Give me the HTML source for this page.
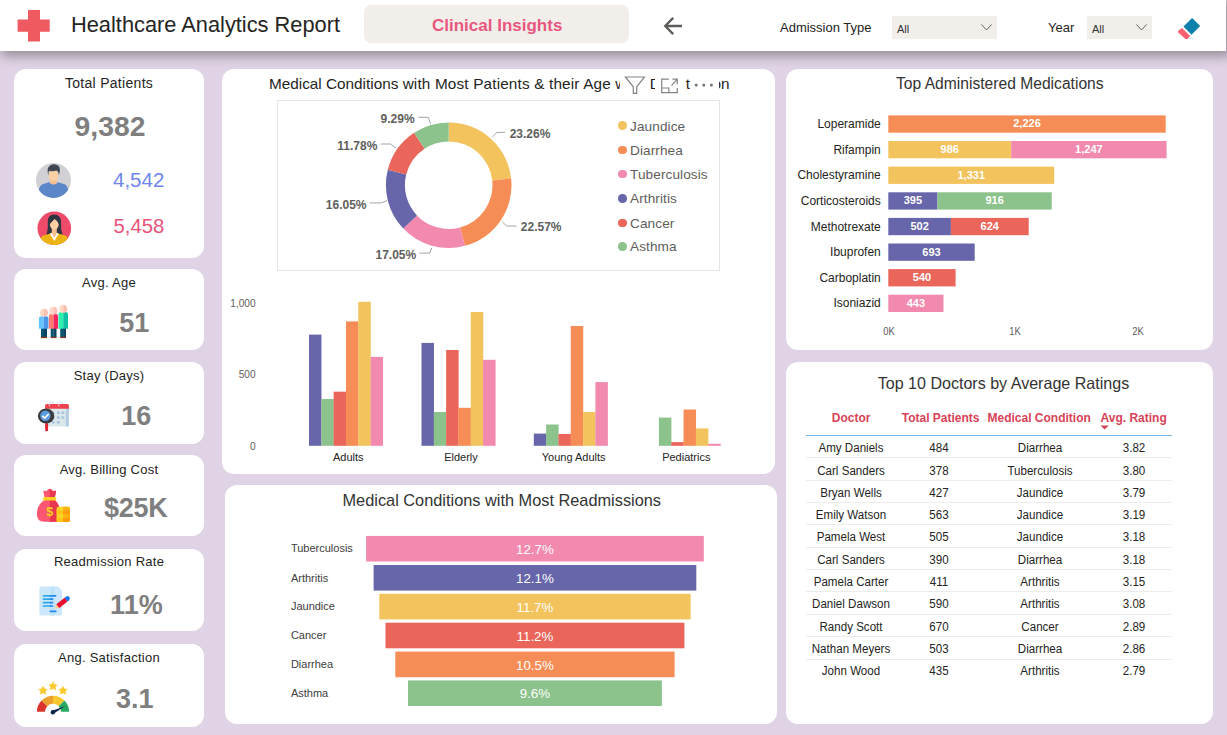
<!DOCTYPE html>
<html>
<head>
<meta charset="utf-8">
<title>Healthcare Analytics Report</title>
<style>
*{box-sizing:border-box;margin:0;padding:0}
html,body{width:1227px;height:735px;overflow:hidden}
body{background:#E0D3E5;font-family:"Liberation Sans",sans-serif;color:#252423;position:relative}
.abs{position:absolute}
.card{position:absolute;background:#fff;border-radius:12px}
.t{position:absolute;white-space:nowrap;line-height:1;transform-origin:0 0}
.tc{position:absolute;white-space:nowrap;line-height:1;text-align:center}
#hdr{position:absolute;left:0;top:0;width:1226px;height:51px;background:#fff;box-shadow:3px 3px 11px 2px rgba(0,0,0,.34)}
.kt{position:absolute;left:0;width:100%;text-align:center;font-size:13px;letter-spacing:.25px;color:#252423;line-height:1;white-space:nowrap}
.kv{position:absolute;width:80px;font-weight:bold;color:#7F7F7F;line-height:1;white-space:nowrap;text-align:center}
.dd{position:absolute;background:#F2EFEB;top:16px;height:23px}
.dl{font-size:12px;font-weight:bold;color:#605E5C;margin-top:1px}
.lg{font-size:13.600px;color:#605E5C;letter-spacing:.1px;margin-top:1.300px}
.ya{font-size:11px;color:#605E5C;text-align:right;transform:scaleX(.92);transform-origin:100% 50%}
.xa{font-size:11px;color:#252423;width:100px}
.ct{font-size:16.500px;color:#333}
.fl{font-size:11px;color:#404040}
.fv{font-size:13.300px;color:#fff;width:80px}
.ml{font-size:12px;color:#252423;text-align:right}
.mb{height:17.300px;color:#fff;font-weight:bold;font-size:11px;line-height:17.300px;text-align:center;white-space:nowrap}
.ax{font-size:10.200px;color:#605E5C;width:40px;margin-top:.5px;transform:scaleX(.93);transform-origin:50% 50%}
.td{font-size:12px;color:#252423;width:120px;margin-top:.5px;transform:scaleX(.965);transform-origin:50% 50%}
.th{font-size:12px;font-weight:bold;color:#D94257}
</style>
</head>
<body>
<!-- HEADER -->
<div id="hdr">
  <svg class="abs" style="left:17px;top:10px" width="34" height="32" viewBox="0 0 34 32"><path d="M11 0h12v9.6h9.7v12.2H23V31.6H11V21.8H.6V9.6H11z" fill="#EE5A5F"/></svg>
  <div class="t" id="title" style="left:71px;top:14px;font-size:21.8px;color:#252423">Healthcare Analytics Report</div>
  <div class="abs" style="left:364px;top:5px;width:265px;height:38px;background:#F2EFEB;border-radius:7px"></div>
  <div class="t" id="btn" style="left:432px;top:17px;font-size:17px;font-weight:bold;color:#E9577F">Clinical Insights</div>
  <svg class="abs" style="left:662px;top:14.500px" width="22" height="22" viewBox="0 0 22 22"><path d="M20 11H3.800M11.200 2.900L3.200 11L11.200 19.100" fill="none" stroke="#5E5C5A" stroke-width="2.300"/></svg>
  <div class="t" id="adm" style="left:780px;top:21px;font-size:13px;color:#252423">Admission Type</div>
  <div class="dd" style="left:892px;width:105px"></div>
  <div class="t" style="left:897px;top:23.500px;font-size:11px;color:#333">All</div>
  <svg class="abs" style="left:980px;top:23px" width="13" height="9" viewBox="0 0 13 9"><path d="M1.500 1.500l5 5.500 5-5.500" fill="none" stroke="#666" stroke-width="1"/></svg>
  <div class="t" id="yr" style="left:1048px;top:21px;font-size:13px;color:#252423">Year</div>
  <div class="dd" style="left:1087px;width:65px"></div>
  <div class="t" style="left:1092px;top:23.500px;font-size:11px;color:#333">All</div>
  <svg class="abs" style="left:1135px;top:23px" width="13" height="9" viewBox="0 0 13 9"><path d="M1.500 1.500l5 5.500 5-5.500" fill="none" stroke="#666" stroke-width="1"/></svg>
  <svg class="abs" style="left:1176px;top:15px" width="28" height="26" viewBox="1176 15 28 26">
    <path d="M1192.100 17.900L1200.200 25.900L1191.500 34.800L1183.500 26.500z" fill="#0F7FAB"/>
    <path d="M1182 28L1190.200 36L1188 38.500Q1186.200 39.700 1184.800 38.600L1178.300 32.400Q1177.600 31.600 1178.400 30.800z" fill="#FB6170"/>
    <path d="M1188 38.500h6" stroke="#CDEFFA" stroke-width="1"/>
  </svg>
</div>


<!-- LEFT KPI CARDS -->
<div class="card" id="k1" style="left:14px;top:69px;width:190px;height:189px">
  <div class="kt" style="top:7px;font-size:14px;letter-spacing:.3px">Total Patients</div>
  <div class="kv" id="v1" style="left:1px;width:190px;top:43.2px;font-size:28.300px">9,382</div>
  <svg class="abs" style="left:22px;top:94px" width="36" height="36" viewBox="0 0 36 36">
    <defs><clipPath id="c1"><circle cx="17.500" cy="17.400" r="17.500"/></clipPath></defs>
    <circle cx="17.500" cy="17.400" r="17.500" fill="#D1D1D5"/>
    <g clip-path="url(#c1)">
      <path d="M2.800 36V27.500Q3.200 22 8 20.800L13.500 19h8L27 20.800Q31.800 22 32.200 27.500V36z" fill="#5B86C8"/>
      <path d="M13.300 19.200Q17.500 23.500 21.700 19.200L20.500 18.500h-6z" fill="#fff"/>
      <path d="M14.200 14h6.600v6.200Q17.500 23 14.200 20.200z" fill="#F2BE8E"/>
      <ellipse cx="17.500" cy="12.300" rx="4.900" ry="6.100" fill="#F8D0A4"/>
      <path d="M12.300 12.500Q10.300 5 14 2.600Q18.500 -.2 22.500 2.800Q25.200 5.500 22.800 12.500Q22.800 8.500 20.500 7.600Q16 9 13 7.800Q12.400 9.500 12.300 12.500z" fill="#3F4753"/>
    </g>
  </svg>
  <svg class="abs" style="left:23px;top:142px" width="35" height="35" viewBox="0 0 35 35">
    <defs><clipPath id="c2"><circle cx="17.300" cy="17.300" r="16.800"/></clipPath></defs>
    <circle cx="17.300" cy="17.300" r="16.800" fill="#EE4B6B"/>
    <g clip-path="url(#c2)">
      <path d="M9.500 24Q11.500 17 10.800 11Q10.500 3.500 17 3.500Q24 3.500 24 11Q23.300 17 25.500 24z" fill="#2F3541"/>
      <path d="M3.500 35V28.500Q4 24.800 8 24L14.500 22.300h5.600L26.500 24Q30.500 24.800 31 28.500V35z" fill="#EBB313"/>
      <path d="M12.800 22.800L17.300 30L21.800 22.800L20 21.800h-5.400z" fill="#fff"/>
      <path d="M14.800 17h5v5.200L17.300 27L14.800 22.200z" fill="#F2BE8E"/>
      <ellipse cx="17.300" cy="13" rx="4.500" ry="5.600" fill="#F8D0A4"/>
      <path d="M12.500 13.500Q11.500 5.500 17 5Q23 5.200 22.200 13.500Q21 10 17.500 8Q15 10.800 12.500 13.500z" fill="#2F3541"/>
    </g>
  </svg>
  <div class="t" id="v1a" style="left:99px;top:100.700px;font-size:20.500px;color:#6F87EE">4,542</div>
  <div class="t" id="v1b" style="left:99.500px;top:147px;font-size:20.300px;color:#E8537B">5,458</div>
</div>

<div class="card" id="k2" style="left:14px;top:269px;width:190px;height:81px">
  <div class="kt" style="top:7px">Avg. Age</div>
  <div class="kv" id="v2" style="left:80.200px;top:41.300px;font-size:27px">51</div>
  <svg class="abs" style="left:22px;top:36px" width="36" height="36" viewBox="36 305 36 36">
    <g>
      <rect x="41" y="328" width="3" height="9" fill="#0B5574"/><rect x="44" y="328" width="3" height="9" fill="#074560"/><rect x="41" y="336.800" width="6" height="1.300" fill="#8A3B20"/>
      <path d="M38.900 318.500Q38.900 316.200 41.500 316.200H43.700V328.700H38.900z" fill="#66C5FC"/><path d="M43.700 316.200H46Q48.500 316.200 48.500 318.500V328.700H43.700z" fill="#4A98EC"/>
      <path d="M43.900 308.800A4 4 0 0 0 43.900 316.800z" fill="#FFD8C8"/><path d="M43.900 308.800A4 4 0 0 1 43.900 316.800z" fill="#FFBFB2"/>
    </g>
    <g>
      <rect x="50.700" y="328" width="3" height="9" fill="#0B5574"/><rect x="53.600" y="328" width="2.900" height="9" fill="#074560"/><rect x="50.700" y="336.800" width="5.800" height="1.300" fill="#8A3B20"/>
      <path d="M48.900 316.300Q48.900 314 51.500 314H53.500V328.700H48.900z" fill="#FF7B6F"/><path d="M53.500 314H55.600Q58.100 314 58.100 316.300V328.700H53.500z" fill="#F5255F"/>
      <path d="M53.400 306.800A4 4 0 0 0 53.400 314.800z" fill="#FFD8C8"/><path d="M53.400 306.800A4 4 0 0 1 53.400 314.800z" fill="#FFBFB2"/>
    </g>
    <g>
      <rect x="60.200" y="328" width="3" height="9" fill="#0B5574"/><rect x="63.100" y="328" width="2.900" height="9" fill="#074560"/><rect x="60.200" y="336.800" width="5.800" height="1.300" fill="#8A3B20"/>
      <path d="M58.500 314.300Q58.500 312 61 312H63.200V328.700H58.500z" fill="#2EF0AE"/><path d="M63.200 312H65.500Q68 312 68 314.300V328.700H63.200z" fill="#10C2A4"/>
      <path d="M63.200 304.900A4 4 0 0 0 63.200 312.900z" fill="#FFD8C8"/><path d="M63.200 304.900A4 4 0 0 1 63.200 312.900z" fill="#FFBFB2"/>
    </g>
  </svg>
</div>

<div class="card" id="k3" style="left:14px;top:362px;width:190px;height:82px">
  <div class="kt" style="top:7px">Stay (Days)</div>
  <div class="kv" id="v3" style="left:82.200px;top:41.300px;font-size:27px">16</div>
  <svg class="abs" style="left:22px;top:36px" width="36" height="36" viewBox="36 398 36 36">
    <rect x="45.100" y="404" width="23.800" height="22.400" rx="1.500" fill="#DCE9EC"/>
    <path d="M65.800 408h3.100v16.900Q68.900 426.400 67.400 426.400H65.800z" fill="#B6CEE4"/>
    <path d="M45.100 408.800V405.500Q45.100 404 46.600 404H67.400Q68.900 404 68.900 405.500V408.800z" fill="#F0434D"/>
    <g fill="#A9C3E1"><circle cx="53.200" cy="412.800" r="1.500"/><circle cx="58.300" cy="412.800" r="1.500"/><circle cx="62.800" cy="412.800" r="1.500"/><circle cx="53.200" cy="417.600" r="1.500"/><circle cx="58.300" cy="417.600" r="1.500"/><circle cx="62.800" cy="417.600" r="1.500"/><circle cx="53.200" cy="422.300" r="1.500"/><circle cx="58.300" cy="422.300" r="1.500"/></g>
    <path d="M49.500 406.500Q48 402 51.300 402Q53 402.200 53.300 404" fill="none" stroke="#C9DCEF" stroke-width="1"/>
    <path d="M59 406.500Q57.500 402 60.800 402Q62.500 402.200 62.800 404" fill="none" stroke="#C9DCEF" stroke-width="1"/>
    <rect x="45.100" y="423" width="3" height="8.300" rx="1.200" fill="#E0252F"/>
    <ellipse cx="46.100" cy="416" rx="8.200" ry="7.400" fill="#3A3A3C"/>
    <circle cx="45.400" cy="415.700" r="5.200" fill="#5B9BE0"/>
    <path d="M42.400 415.800l2.300 2.300l4-4.100" fill="none" stroke="#fff" stroke-width="1.700"/>
  </svg>
</div>

<div class="card" id="k4" style="left:14px;top:455px;width:190px;height:81px">
  <div class="kt" style="top:7.800px">Avg. Billing Cost</div>
  <div class="kv" id="v4" style="left:81.800px;top:39.700px;font-size:27px;letter-spacing:-.2px">$25K</div>
  <svg class="abs" style="left:22px;top:30px" width="36" height="38" viewBox="36 485 36 38">
    <path d="M43.200 491Q45 490.500 46.300 491.300Q48 488.600 49.600 488.700Q51.300 488.600 53 491.300Q54.500 490.500 56.200 491L54.800 497.300H44.500z" fill="#FB5672"/>
    <path d="M49.700 488.700Q51.300 488.600 53 491.300Q54.500 490.500 56.200 491L54.800 497.300H49.700z" fill="#E8374F"/>
    <path d="M44.500 500Q37 504.500 36.900 514Q36.900 521.800 44 521.800H57Q60.600 521.800 60.400 514Q60 504.500 54.800 500z" fill="#FB5672"/>
    <path d="M49.800 500H54.800Q60 504.500 60.400 514Q60.600 521.800 57 521.800H49.800z" fill="#E8374F"/>
    <rect x="43" y="497" width="13.300" height="3.600" rx="1.500" fill="#FFCF21"/>
    <text x="49.800" y="516.300" font-family="Liberation Sans, sans-serif" font-weight="bold" font-size="12.500" fill="#FFCF21" text-anchor="middle">$</text>
    <g>
      <rect x="56.600" y="506.800" width="13.400" height="15" rx="1.700" fill="#FFD529"/>
      <rect x="63" y="506.800" width="7" height="15" rx="1.700" fill="#FFB311"/>
      <rect x="63" y="506.800" width="3" height="15" fill="#FFB311"/>
      <rect x="56.600" y="510.500" width="6.400" height="3.700" fill="#FFC414"/><rect x="63" y="510.500" width="7" height="3.700" rx="1.500" fill="#FF9A0B"/>
      <rect x="56.600" y="518" width="6.400" height="3.800" fill="#FFC414"/><rect x="63" y="518" width="7" height="3.800" rx="1.500" fill="#FF9A0B"/>
    </g>
  </svg>
</div>

<div class="card" id="k5" style="left:14px;top:549px;width:190px;height:82px">
  <div class="kt" style="top:6px">Readmission Rate</div>
  <div class="kv" id="v5" style="left:82.400px;top:43.200px;font-size:27px">11%</div>
  <svg class="abs" style="left:22px;top:34px" width="36" height="36" viewBox="36 583 36 36">
    <path d="M41.300 586.500H58L62.100 590.500V613.400Q62.100 615.400 60.100 615.400H41.300Q39.300 615.400 39.300 613.400V588.500Q39.300 586.500 41.300 586.500z" fill="#CBE7F9"/>
    <path d="M50.500 586.500H55V615.400H50.500z" fill="#BEE2F6"/>
    <g stroke-width="1.700" stroke-linecap="round">
      <path d="M43.500 595.800H50.500M43.500 599.200H50.500M43.500 602.600H50.500M43.500 606H50.500" stroke="#2BA9E9"/>
      <path d="M50.500 595.800H55.600M50.500 599.200H52.400M50.500 602.600H52.400M50.500 606H52.400M50.300 611.300H55.900" stroke="#2388F1"/>
    </g>
    <g transform="translate(54.900 608.600) rotate(-38.700)">
      <path d="M0 0L3.800 -2.400V2.400z" fill="#FFCA8B"/>
      <rect x="3.800" y="-2.400" width="10.500" height="4.800" fill="#E90A2F"/>
      <path d="M14.300 -2.400H16Q18.400 -2.400 18.400 0Q18.400 2.400 16 2.400H14.300z" fill="#1371E9"/>
    </g>
  </svg>
</div>

<div class="card" id="k6" style="left:14px;top:644px;width:190px;height:83px">
  <div class="kt" style="top:7px">Ang. Satisfaction</div>
  <div class="kv" id="v6" style="left:80.700px;top:42.400px;font-size:27px">3.1</div>
  <svg class="abs" style="left:22px;top:36px" width="36" height="36" viewBox="36 680 36 36">
    <g id="gauge">
      <path d="M36.900 711.800A16.100 16.100 0 0 1 41.620 700.420L47.340 706.140A8 8 0 0 0 45 711.800z" fill="#D9342D"/>
      <path d="M41.620 700.420A16.100 16.100 0 0 1 53 695.700V703.800A8 8 0 0 0 47.340 706.140z" fill="#EDA12D"/>
      <path d="M53 695.700A16.100 16.100 0 0 1 64.380 700.420L58.660 706.140A8 8 0 0 0 53 703.800z" fill="#F9C830"/>
      <path d="M64.380 700.420A16.100 16.100 0 0 1 69.100 711.800H61A8 8 0 0 0 58.660 706.140z" fill="#28A963"/>
      <path d="M51 711.200L65.200 706L53.800 713.600z" fill="#0B2548"/><circle cx="52.900" cy="712.200" r="2.200" fill="#0B2548"/>
    </g>
    <g fill="#FACB2F" stroke="#FACB2F" stroke-width=".6" stroke-linejoin="round">
      <path id="st" d="M0 -4.300L1.500 -1.600L4.200 -1.300L2.200 0.800L2.700 3.600L0 2.300L-2.700 3.600L-2.200 0.800L-4.200 -1.300L-1.500 -1.600z" transform="translate(43 690.600)"/>
      <path d="M0 -4.300L1.500 -1.600L4.200 -1.300L2.200 0.800L2.700 3.600L0 2.300L-2.700 3.600L-2.200 0.800L-4.200 -1.300L-1.500 -1.600z" transform="translate(53 686.200)"/>
      <path d="M0 -4.300L1.500 -1.600L4.200 -1.300L2.200 0.800L2.700 3.600L0 2.300L-2.700 3.600L-2.200 0.800L-4.200 -1.300L-1.500 -1.600z" transform="translate(63 690.600)"/>
    </g>
  </svg>
</div>


<!-- MIDDLE -->
<div class="card" id="m1" style="left:222px;top:69px;width:553px;height:405px"></div>
<div id="m1c">
  <div class="t" id="m1t" style="left:269px;top:76px;font-size:15.320px;color:#252423">Medical Conditions <span style="letter-spacing:.16px">with Most Patients &amp; their Age wise Distribution</span></div>
  <div class="abs" style="left:620.300px;top:72px;width:112px;height:24px;background:#fff"></div>
  <div class="abs" style="left:649.500px;top:72px;width:5.500px;height:24px;overflow:hidden"><div class="t" style="left:.3px;top:4px;font-size:15.320px;color:#252423">D</div></div>
  <div class="abs" style="left:685.200px;top:72px;width:5px;height:24px;overflow:hidden"><div class="t" style="left:.5px;top:4px;font-size:15.320px;color:#252423">t</div></div>
  <div class="abs" style="left:719.200px;top:72px;width:11px;height:24px;overflow:hidden"><div class="t" style="right:.6px;top:4px;font-size:15.320px;color:#252423">on</div></div>
  <svg class="abs" style="left:620px;top:72px" width="100" height="24" viewBox="620 72 100 24">
    <path d="M625.400 77H644.400L636.700 86.800V93.300H633.300V86.800z" fill="none" stroke="#858585" stroke-width="1.200" stroke-linejoin="miter"/>
    <path d="M668.900 79.100H661.700V92.600H677.300V87.900M661.700 88H668.900V92.600" fill="none" stroke="#858585" stroke-width="1.200"/>
    <path d="M672.400 79.100H677.300V84.300M677.300 79.100L671.500 85.700" fill="none" stroke="#858585" stroke-width="1.200"/>
    <circle cx="696.200" cy="85.100" r="1.550" fill="#7A7A7A"/><circle cx="703.800" cy="85.100" r="1.550" fill="#7A7A7A"/><circle cx="711.400" cy="85.100" r="1.550" fill="#7A7A7A"/>
  </svg>
  <div class="abs" style="left:277px;top:100px;width:443px;height:171px;border:1px solid #E6E6E6"></div>
  <svg class="abs" style="left:222px;top:69px" width="553" height="405" viewBox="222 69 553 405">
    <path d="M448.70 122.40A62.8 62.8 0 0 1 511.13 178.35L492.24 180.42A43.8 43.8 0 0 0 448.70 141.40z" fill="#F3C35D"/>
    <path d="M511.13 178.35A62.8 62.8 0 0 1 464.97 245.86L460.05 227.51A43.8 43.8 0 0 0 492.24 180.42z" fill="#F78D56"/>
    <path d="M464.97 245.86A62.8 62.8 0 0 1 403.25 228.53L417.00 215.42A43.8 43.8 0 0 0 460.05 227.51z" fill="#F289AE"/>
    <path d="M403.25 228.53A62.8 62.8 0 0 1 387.80 169.85L406.23 174.49A43.8 43.8 0 0 0 417.00 215.42z" fill="#6766AA"/>
    <path d="M387.80 169.85A62.8 62.8 0 0 1 414.09 132.80L424.56 148.65A43.8 43.8 0 0 0 406.23 174.49z" fill="#EA655A"/>
    <path d="M414.09 132.80A62.8 62.8 0 0 1 448.70 122.40L448.70 141.40A43.8 43.8 0 0 0 424.56 148.65z" fill="#8CC28B"/>
    <path d="M492.3 137L497 132.4H505M502.3 221.9L506.9 226.1H516.6M431.7 248L429.9 253.1H419.5M387.1 200.6L381.3 202.9H369.7M395.9 148.1L390.6 144H380.6M430.6 123.8L428.3 117.3H418.3" fill="none" stroke="#A6A6A6" stroke-width="1"/>
    <rect x="309.00" y="334.6" width="12.47" height="111.20" fill="#6766AA"/>
    <rect x="321.32" y="399" width="12.47" height="46.80" fill="#8CC28B"/>
    <rect x="333.64" y="391.7" width="12.47" height="54.10" fill="#EA655A"/>
    <rect x="345.96" y="321.4" width="12.47" height="124.40" fill="#F78D56"/>
    <rect x="358.28" y="301.8" width="12.47" height="144.00" fill="#F3C35D"/>
    <rect x="370.60" y="356.9" width="12.47" height="88.90" fill="#F289AE"/>
    <rect x="421.50" y="342.9" width="12.47" height="102.90" fill="#6766AA"/>
    <rect x="433.82" y="412" width="12.47" height="33.80" fill="#8CC28B"/>
    <rect x="446.14" y="350" width="12.47" height="95.80" fill="#EA655A"/>
    <rect x="458.46" y="407.8" width="12.47" height="38.00" fill="#F78D56"/>
    <rect x="470.78" y="312" width="12.47" height="133.80" fill="#F3C35D"/>
    <rect x="483.10" y="359.8" width="12.47" height="86.00" fill="#F289AE"/>
    <rect x="533.80" y="433.6" width="12.47" height="12.20" fill="#6766AA"/>
    <rect x="546.12" y="424.5" width="12.47" height="21.30" fill="#8CC28B"/>
    <rect x="558.44" y="434" width="12.47" height="11.80" fill="#EA655A"/>
    <rect x="570.76" y="326" width="12.47" height="119.80" fill="#F78D56"/>
    <rect x="583.08" y="412" width="12.47" height="33.80" fill="#F3C35D"/>
    <rect x="595.40" y="382.1" width="12.47" height="63.70" fill="#F289AE"/>
    <rect x="658.92" y="417.6" width="12.47" height="28.20" fill="#8CC28B"/>
    <rect x="671.24" y="442.1" width="12.47" height="3.70" fill="#EA655A"/>
    <rect x="683.56" y="409.5" width="12.47" height="36.30" fill="#F78D56"/>
    <rect x="695.88" y="428.4" width="12.47" height="17.40" fill="#F3C35D"/>
    <rect x="708.20" y="443.8" width="12.47" height="2.00" fill="#F289AE"/>
  </svg>
  <div class="t dl" style="left:509.700px;top:126.800px">23.26%</div>
  <div class="t dl" style="left:520.800px;top:220px">22.57%</div>
  <div class="t dl" style="left:375.500px;top:248px">17.05%</div>
  <div class="t dl" style="left:325.800px;top:198px">16.05%</div>
  <div class="t dl" style="left:337.300px;top:139px">11.78%</div>
  <div class="t dl" style="left:380.600px;top:112px">9.29%</div>
  <div class="abs" style="left:618.3px;top:121.35px;width:8.7px;height:8.7px;border-radius:50%;background:#F3C35D"></div><div class="t lg" style="left:630px;top:118.4px">Jaundice</div>
  <div class="abs" style="left:618.3px;top:145.75px;width:8.7px;height:8.7px;border-radius:50%;background:#F78D56"></div><div class="t lg" style="left:630px;top:142.8px">Diarrhea</div>
  <div class="abs" style="left:618.3px;top:169.65px;width:8.7px;height:8.7px;border-radius:50%;background:#F289AE"></div><div class="t lg" style="left:630px;top:166.7px">Tuberculosis</div>
  <div class="abs" style="left:618.3px;top:193.85px;width:8.7px;height:8.7px;border-radius:50%;background:#6766AA"></div><div class="t lg" style="left:630px;top:190.9px">Arthritis</div>
  <div class="abs" style="left:618.3px;top:218.65px;width:8.7px;height:8.7px;border-radius:50%;background:#EA655A"></div><div class="t lg" style="left:630px;top:215.7px">Cancer</div>
  <div class="abs" style="left:618.3px;top:242.15px;width:8.7px;height:8.7px;border-radius:50%;background:#8CC28B"></div><div class="t lg" style="left:630px;top:239.2px">Asthma</div>
  
  <div class="t ya" style="left:200px;width:55.600px;top:298px">1,000</div>
  <div class="t ya" style="left:200px;width:55.600px;top:369.100px">500</div>
  <div class="t ya" style="left:200px;width:55.600px;top:440.600px">0</div>
  <div class="tc xa" style="left:298.300px;top:451.500px">Adults</div>
  <div class="tc xa" style="left:411px;top:451.500px">Elderly</div>
  <div class="tc xa" style="left:523.700px;top:451.500px">Young Adults</div>
  <div class="tc xa" style="left:636.300px;top:451.500px">Pediatrics</div>
</div>
<div class="card" id="m2" style="left:225px;top:485px;width:552px;height:239px"></div>
<div id="m2c">
  <svg class="abs" style="left:225px;top:485px" width="552" height="239" viewBox="225 485 552 239"><rect x="366.1" y="535.9" width="337.7" height="25.600" fill="#F289AE"/><rect x="373.6" y="565.0" width="322.7" height="25.600" fill="#6766AA"/><rect x="379.3" y="593.8" width="311.3" height="25.600" fill="#F3C35D"/><rect x="385.5" y="622.7" width="298.9" height="25.600" fill="#EA655A"/><rect x="395.3" y="651.6" width="279.3" height="25.600" fill="#F78D56"/><rect x="408.0" y="680.4" width="253.9" height="25.600" fill="#8CC28B"/></svg>
  <div class="t ct" id="m2t" style="left:342.500px;top:491.500px;font-size:16.330px">Medical Conditions with Most Readmissions</div>
  <div class="t fl" style="left:290.900px;top:543.4px">Tuberculosis</div><div class="tc fv" style="left:494.95000000000005px;top:542.9px">12.7%</div>
  <div class="t fl" style="left:290.900px;top:572.5px">Arthritis</div><div class="tc fv" style="left:494.95000000000005px;top:572.0px">12.1%</div>
  <div class="t fl" style="left:290.900px;top:601.3px">Jaundice</div><div class="tc fv" style="left:494.95000000000005px;top:600.8px">11.7%</div>
  <div class="t fl" style="left:290.900px;top:630.2px">Cancer</div><div class="tc fv" style="left:494.95000000000005px;top:629.7px">11.2%</div>
  <div class="t fl" style="left:290.900px;top:659.1px">Diarrhea</div><div class="tc fv" style="left:494.95000000000005px;top:658.6px">10.5%</div>
  <div class="t fl" style="left:290.900px;top:687.9px">Asthma</div><div class="tc fv" style="left:494.95000000000005px;top:687.4px">9.6%</div>
  
</div>

<!-- RIGHT -->
<div class="card" id="r1" style="left:786px;top:69px;width:427px;height:281px"></div>
<div id="r1c">
  <svg class="abs" style="left:786px;top:69px" width="427" height="281" viewBox="786 69 427 281"><rect x="888.3" y="115.4" width="277.4" height="17.300" fill="#F78D56"/><rect x="888.3" y="141.0" width="122.9" height="17.300" fill="#F3C35D"/><rect x="1011.2" y="141.0" width="155.4" height="17.300" fill="#F289AE"/><rect x="888.3" y="166.6" width="165.9" height="17.300" fill="#F3C35D"/><rect x="888.3" y="192.3" width="49.2" height="17.300" fill="#6766AA"/><rect x="937.5" y="192.3" width="114.2" height="17.300" fill="#8CC28B"/><rect x="888.3" y="217.9" width="62.6" height="17.300" fill="#6766AA"/><rect x="950.9" y="217.9" width="77.8" height="17.300" fill="#EA655A"/><rect x="888.3" y="243.5" width="86.4" height="17.300" fill="#6766AA"/><rect x="888.3" y="269.1" width="67.3" height="17.300" fill="#EA655A"/><rect x="888.3" y="294.7" width="55.2" height="17.300" fill="#F289AE"/></svg>
  <div class="t ct" id="r1t" style="left:896px;top:75.800px;font-size:15.640px">Top Administered Medications</div>
  <div class="t ml" style="left:780px;width:100.800px;top:118.0px">Loperamide</div><div class="abs mb" style="left:888.3px;top:115.4px;width:277.4px">2,226</div>
  <div class="t ml" style="left:780px;width:100.800px;top:143.6px">Rifampin</div><div class="abs mb" style="left:888.3px;top:141.0px;width:122.9px">986</div><div class="abs mb" style="left:1011.2px;top:141.0px;width:155.4px">1,247</div>
  <div class="t ml" style="left:780px;width:100.800px;top:169.2px">Cholestyramine</div><div class="abs mb" style="left:888.3px;top:166.6px;width:165.9px">1,331</div>
  <div class="t ml" style="left:780px;width:100.800px;top:194.9px">Corticosteroids</div><div class="abs mb" style="left:888.3px;top:192.3px;width:49.2px">395</div><div class="abs mb" style="left:937.5px;top:192.3px;width:114.2px">916</div>
  <div class="t ml" style="left:780px;width:100.800px;top:220.5px">Methotrexate</div><div class="abs mb" style="left:888.3px;top:217.9px;width:62.6px">502</div><div class="abs mb" style="left:950.9px;top:217.9px;width:77.8px">624</div>
  <div class="t ml" style="left:780px;width:100.800px;top:246.1px">Ibuprofen</div><div class="abs mb" style="left:888.3px;top:243.5px;width:86.4px">693</div>
  <div class="t ml" style="left:780px;width:100.800px;top:271.7px">Carboplatin</div><div class="abs mb" style="left:888.3px;top:269.1px;width:67.3px">540</div>
  <div class="t ml" style="left:780px;width:100.800px;top:297.3px">Isoniazid</div><div class="abs mb" style="left:888.3px;top:294.7px;width:55.2px">443</div>
  
  <div class="tc ax" style="left:869.300px;top:326.500px">0K</div>
  <div class="tc ax" style="left:994.600px;top:326.500px">1K</div>
  <div class="tc ax" style="left:1118px;top:326.500px">2K</div>
</div>
<div class="card" id="r2" style="left:786px;top:362px;width:427px;height:362px"></div>
<div id="r2c">
  <div class="t ct" id="r2t" style="left:877.700px;top:374.500px;font-size:16.070px">Top 10 Doctors by Average Ratings</div>
  <div class="t th" id="h1" style="left:831.800px;top:411.800px">Doctor</div>
  <div class="t th" id="h2" style="left:901.700px;top:411.800px">Total Patients</div>
  <div class="t th" id="h3" style="left:987.500px;top:411.800px">Medical Condition</div>
  <div class="t th" id="h4" style="left:1100.500px;top:411.800px">Avg. Rating</div>
  <svg class="abs" style="left:1100px;top:425px" width="10" height="6" viewBox="0 0 10 6"><path d="M.5 .6H8.700L4.600 4.600z" fill="#D94257"/></svg>
  <div class="abs" style="left:806px;top:434.800px;width:366px;height:1.200px;background:#74B6EC"></div>
  <div class="tc td" style="left:791.3px;top:441.8px">Amy Daniels</div><div class="tc td" style="left:879.3px;top:441.8px">484</div><div class="tc td" style="left:979.5px;top:441.8px">Diarrhea</div><div class="tc td" style="left:1073.8px;top:441.8px">3.82</div><div class="abs" style="left:806px;top:457.3px;width:366px;height:1px;background:#ECECEC"></div>
  <div class="tc td" style="left:791.3px;top:464.1px">Carl Sanders</div><div class="tc td" style="left:879.3px;top:464.1px">378</div><div class="tc td" style="left:979.5px;top:464.1px">Tuberculosis</div><div class="tc td" style="left:1073.8px;top:464.1px">3.80</div><div class="abs" style="left:806px;top:479.7px;width:366px;height:1px;background:#ECECEC"></div>
  <div class="tc td" style="left:791.3px;top:486.3px">Bryan Wells</div><div class="tc td" style="left:879.3px;top:486.3px">427</div><div class="tc td" style="left:979.5px;top:486.3px">Jaundice</div><div class="tc td" style="left:1073.8px;top:486.3px">3.79</div><div class="abs" style="left:806px;top:502.0px;width:366px;height:1px;background:#ECECEC"></div>
  <div class="tc td" style="left:791.3px;top:508.6px">Emily Watson</div><div class="tc td" style="left:879.3px;top:508.6px">563</div><div class="tc td" style="left:979.5px;top:508.6px">Jaundice</div><div class="tc td" style="left:1073.8px;top:508.6px">3.19</div><div class="abs" style="left:806px;top:524.4px;width:366px;height:1px;background:#ECECEC"></div>
  <div class="tc td" style="left:791.3px;top:530.9px">Pamela West</div><div class="tc td" style="left:879.3px;top:530.9px">505</div><div class="tc td" style="left:979.5px;top:530.9px">Jaundice</div><div class="tc td" style="left:1073.8px;top:530.9px">3.18</div><div class="abs" style="left:806px;top:546.7px;width:366px;height:1px;background:#ECECEC"></div>
  <div class="tc td" style="left:791.3px;top:553.1px">Carl Sanders</div><div class="tc td" style="left:879.3px;top:553.1px">390</div><div class="tc td" style="left:979.5px;top:553.1px">Diarrhea</div><div class="tc td" style="left:1073.8px;top:553.1px">3.18</div><div class="abs" style="left:806px;top:569.0px;width:366px;height:1px;background:#ECECEC"></div>
  <div class="tc td" style="left:791.3px;top:575.4px">Pamela Carter</div><div class="tc td" style="left:879.3px;top:575.4px">411</div><div class="tc td" style="left:979.5px;top:575.4px">Arthritis</div><div class="tc td" style="left:1073.8px;top:575.4px">3.15</div><div class="abs" style="left:806px;top:591.4px;width:366px;height:1px;background:#ECECEC"></div>
  <div class="tc td" style="left:791.3px;top:597.7px">Daniel Dawson</div><div class="tc td" style="left:879.3px;top:597.7px">590</div><div class="tc td" style="left:979.5px;top:597.7px">Arthritis</div><div class="tc td" style="left:1073.8px;top:597.7px">3.08</div><div class="abs" style="left:806px;top:613.8px;width:366px;height:1px;background:#ECECEC"></div>
  <div class="tc td" style="left:791.3px;top:620.0px">Randy Scott</div><div class="tc td" style="left:879.3px;top:620.0px">670</div><div class="tc td" style="left:979.5px;top:620.0px">Cancer</div><div class="tc td" style="left:1073.8px;top:620.0px">2.89</div><div class="abs" style="left:806px;top:636.1px;width:366px;height:1px;background:#ECECEC"></div>
  <div class="tc td" style="left:791.3px;top:642.2px">Nathan Meyers</div><div class="tc td" style="left:879.3px;top:642.2px">503</div><div class="tc td" style="left:979.5px;top:642.2px">Diarrhea</div><div class="tc td" style="left:1073.8px;top:642.2px">2.86</div><div class="abs" style="left:806px;top:658.5px;width:366px;height:1px;background:#ECECEC"></div>
  <div class="tc td" style="left:791.3px;top:664.5px">John Wood</div><div class="tc td" style="left:879.3px;top:664.5px">435</div><div class="tc td" style="left:979.5px;top:664.5px">Arthritis</div><div class="tc td" style="left:1073.8px;top:664.5px">2.79</div>
  
</div>

</body>
</html>
